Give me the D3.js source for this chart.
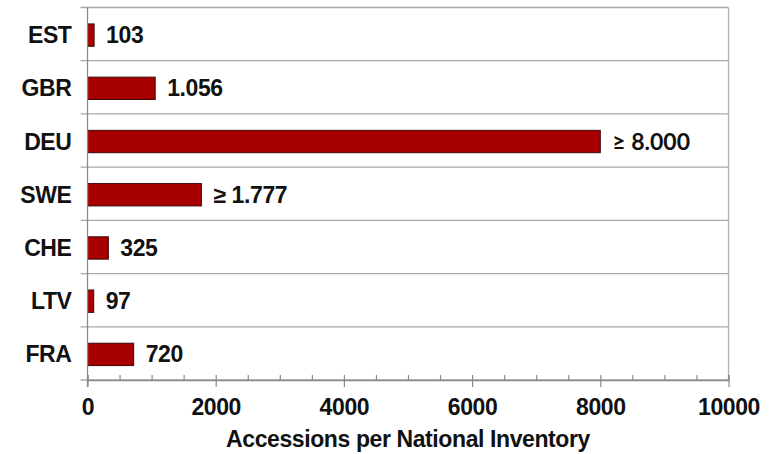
<!DOCTYPE html>
<html>
<head>
<meta charset="utf-8">
<script src="https://cdn.jsdelivr.net/npm/d3@7"></script>
<style>
  html, body { margin: 0; padding: 0; background: #fff; }
  svg { display: block; }
  text { font-family: "Liberation Sans", Arial, sans-serif; font-weight: bold; fill: #111; letter-spacing: -0.4px; }
</style>
</head>
<body>
<svg id="chart" width="774" height="454"></svg>
<script>
// Accessions held per national inventory, by country
const countries = ["EST", "GBR", "DEU", "SWE", "CHE", "LTV", "FRA"];
const accessions = [103, 1056, 8000, 1777, 325, 97, 720];
const valueLabels = ["103", "1.056", "\u2265 8.000", "\u2265 1.777", "325", "97", "720"];
const xTicks = [0, 2000, 4000, 6000, 8000, 10000];
const xMinorTicks = d3.range(0, 10001, 500);
const xTitle = "Accessions per National Inventory";

const svg = d3.select("#chart");
const plotLeft = 87.5, plotRight = 728.5, plotTop = 7.5, plotBottom = 380;
const fontSize = "23px";

const x = d3.scaleLinear().domain([0, 10000]).range([plotLeft, plotRight]);
const y = d3.scaleBand().domain(countries).range([plotTop, plotBottom]).padding(0);
const barH = y.bandwidth() * 0.42;

// Row separators (extend past the axis as category tick marks)
const edges = countries.map(c => y(c)).concat([plotBottom]);
svg.append("g")
  .selectAll("line")
  .data(edges)
  .join("line")
  .attr("x1", plotLeft - 7).attr("x2", plotRight)
  .attr("y1", d => d).attr("y2", d => d)
  .attr("stroke", "#a8a8a8").attr("stroke-width", 1.3);

// Right frame edge
svg.append("line")
  .attr("x1", plotRight).attr("x2", plotRight)
  .attr("y1", plotTop).attr("y2", plotBottom)
  .attr("stroke", "#b0b0b0").attr("stroke-width", 1.3);

// Bars
svg.append("g")
  .selectAll("rect")
  .data(countries)
  .join("rect")
  .attr("x", x(0))
  .attr("y", d => y(d) + (y.bandwidth() - barH) / 2 + 1)
  .attr("width", (d, i) => x(accessions[i]) - x(0))
  .attr("height", barH)
  .attr("fill", "#a80000")
  .attr("stroke", "#3a0808")
  .attr("stroke-width", 1);

// Value labels
svg.append("g")
  .selectAll("text")
  .data(countries)
  .join("text")
  .attr("x", (d, i) => x(accessions[i]) + 12)
  .attr("y", d => y(d) + y.bandwidth() / 2 + 9)
  .style("font-size", fontSize)
  .style("font-family", (d, i) => countries[i] === "DEU" ? "Lato, 'Open Sans', sans-serif" : null)
  .style("letter-spacing", (d, i) => countries[i] === "DEU" ? "0px" : null)
  .text((d, i) => valueLabels[i]);

// Category axis
const yAxis = svg.append("g")
  .attr("transform", `translate(${plotLeft},0)`)
  .call(d3.axisLeft(y).tickSize(0).tickPadding(16));
yAxis.select(".domain").remove();
yAxis.selectAll("text")
  .attr("dy", "0.39em")
  .style("font-size", fontSize)
  .style("font-family", "'Liberation Sans', Arial, sans-serif")
  .attr("fill", "#111");

// Left axis line
svg.append("line")
  .attr("x1", plotLeft).attr("x2", plotLeft)
  .attr("y1", plotTop).attr("y2", plotBottom + 7)
  .attr("stroke", "#8a8a8a").attr("stroke-width", 1.3);

// Minor ticks (pointing inward)
const minorAxis = svg.append("g")
  .attr("transform", `translate(0,${plotBottom})`)
  .call(d3.axisBottom(x).tickValues(xMinorTicks).tickSize(-5).tickFormat(""));
minorAxis.select(".domain").attr("stroke", "#8a8a8a").attr("stroke-width", 1.3);
minorAxis.selectAll(".tick line").attr("stroke", "#8a8a8a").attr("stroke-width", 1.2);

// Major ticks and labels
const xAxis = svg.append("g")
  .attr("transform", `translate(0,${plotBottom})`)
  .call(d3.axisBottom(x).tickValues(xTicks).tickSize(7).tickPadding(12).tickFormat(d3.format("d")));
xAxis.select(".domain").remove();
xAxis.selectAll(".tick line").attr("stroke", "#8a8a8a").attr("stroke-width", 1.2);
xAxis.selectAll("text")
  .style("font-size", fontSize)
  .style("font-family", "'Liberation Sans', Arial, sans-serif")
  .attr("fill", "#111");

// Axis title
svg.append("text")
  .attr("x", (plotLeft + plotRight) / 2)
  .attr("y", 447)
  .attr("text-anchor", "middle")
  .style("font-size", fontSize)
  .text(xTitle);
</script>
</body>
</html>
